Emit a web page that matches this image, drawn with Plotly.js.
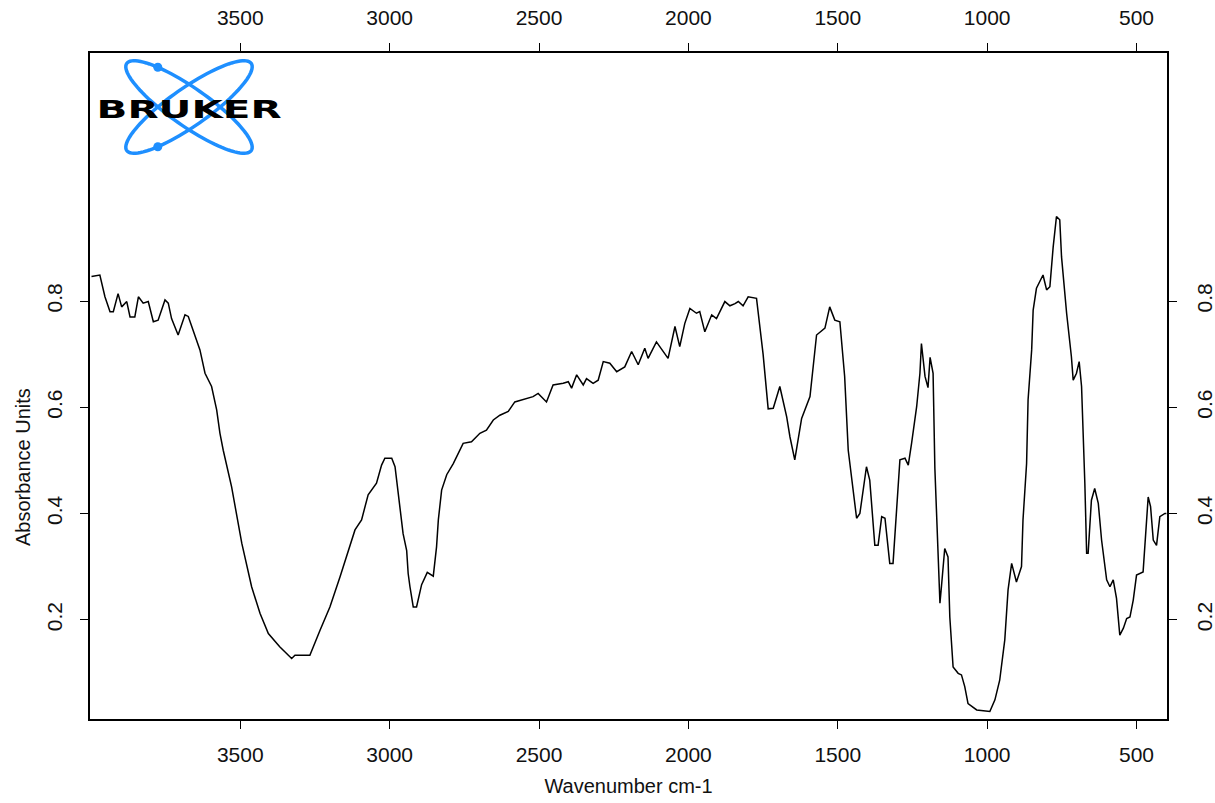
<!DOCTYPE html>
<html><head><meta charset="utf-8">
<script src="https://cdn.plot.ly/plotly-3.0.1.min.js"></script>
<style>
html,body{margin:0;padding:0;background:#fff;}
#chart{width:1215px;height:803px;}
.annotation[data-index="1"] text{transform:scaleX(1.62);transform-box:fill-box;transform-origin:center;}
</style></head><body><div id="chart"></div>
<script>
// ---- data ----
const wavenumbers = [3998,3970,3953,3936,3925,3909,3897,3880,3869,3853,3841,3825,3808,3791,3775,3752,3741,3730,3708,3685,3674,3657,3635,3618,3596,3579,3568,3557,3529,3495,3462,3434,3406,3368,3328,3317,3267,3233,3200,3166,3139,3116,3094,3072,3044,3027,3016,2993,2982,2966,2955,2943,2938,2932,2921,2910,2893,2874,2854,2843,2837,2826,2809,2787,2776,2759,2754,2726,2698,2676,2653,2631,2603,2581,2553,2520,2503,2475,2453,2419,2402,2391,2374,2352,2341,2319,2302,2285,2263,2240,2213,2190,2168,2146,2135,2107,2068,2045,2029,2012,1995,1973,1962,1945,1922,1906,1878,1861,1844,1833,1817,1800,1772,1750,1733,1716,1694,1671,1660,1644,1621,1593,1571,1543,1527,1510,1493,1477,1465,1437,1426,1404,1393,1376,1365,1353,1342,1326,1315,1303,1292,1275,1264,1253,1236,1225,1220,1208,1198,1191,1181,1175,1169,1158,1153,1142,1131,1125,1114,1097,1086,1075,1064,1035,991,974,958,941,930,918,902,885,880,868,863,851,846,835,813,801,790,779,768,757,751,734,718,712,701,692,684,679,673,667,662,651,640,628,617,600,589,578,567,556,544,533,522,511,500,478,470,461,453,444,433,422,405,400];
const absorbance = [0.846,0.849,0.808,0.780,0.780,0.814,0.789,0.799,0.770,0.770,0.808,0.796,0.799,0.761,0.764,0.802,0.796,0.767,0.736,0.774,0.771,0.742,0.708,0.664,0.639,0.595,0.551,0.519,0.450,0.344,0.262,0.212,0.174,0.149,0.127,0.133,0.133,0.180,0.224,0.281,0.331,0.369,0.388,0.435,0.457,0.491,0.504,0.504,0.488,0.413,0.362,0.330,0.287,0.262,0.224,0.224,0.266,0.289,0.282,0.337,0.388,0.444,0.473,0.494,0.507,0.526,0.532,0.535,0.551,0.557,0.576,0.585,0.592,0.610,0.614,0.620,0.626,0.610,0.642,0.645,0.648,0.636,0.661,0.642,0.654,0.645,0.651,0.686,0.683,0.667,0.676,0.705,0.680,0.711,0.692,0.723,0.692,0.752,0.714,0.758,0.786,0.777,0.780,0.742,0.774,0.767,0.799,0.791,0.795,0.799,0.791,0.808,0.805,0.700,0.597,0.598,0.639,0.582,0.544,0.501,0.579,0.620,0.736,0.749,0.789,0.764,0.761,0.658,0.519,0.391,0.400,0.488,0.463,0.340,0.340,0.394,0.391,0.306,0.306,0.400,0.501,0.504,0.491,0.532,0.601,0.664,0.720,0.658,0.637,0.694,0.664,0.485,0.381,0.231,0.262,0.334,0.318,0.205,0.111,0.099,0.096,0.074,0.042,0.030,0.027,0.049,0.086,0.162,0.256,0.306,0.271,0.300,0.388,0.494,0.614,0.708,0.783,0.824,0.849,0.821,0.827,0.902,0.959,0.953,0.883,0.777,0.695,0.651,0.664,0.686,0.639,0.563,0.457,0.325,0.325,0.425,0.447,0.419,0.350,0.275,0.262,0.275,0.240,0.171,0.184,0.202,0.205,0.237,0.284,0.290,0.363,0.431,0.413,0.350,0.340,0.394,0.400,0.400];
const xTickVals = [3500, 3000, 2500, 2000, 1500, 1000, 500];
const xTickText = ['3500', '3000', '2500', '2000', '1500', '1000', '500'];
const yTickVals = [0.2, 0.4, 0.6, 0.8];
const yTickText = ['0.2', '0.4', '0.6', '0.8'];
const xTitle = 'Wavenumber cm-1';
const yTitle = 'Absorbance Units';
const logoText = 'BRUKER';

// ---- layout geometry ----
const W = 1215, H = 803;
const M = {l: 90, r: 48, t: 53, b: 84};
const PW = W - M.l - M.r, PH = H - M.t - M.b;
const px2x = px => (px - M.l) / PW;
const py2y = py => 1 - (py - M.t) / PH;

const tickFont = {family: 'Liberation Sans, Arial, sans-serif', size: 21, color: '#111'};
const titleFont = {family: 'Liberation Sans, Arial, sans-serif', size: 20, color: '#111'};

const xBase = {
  range: [4003, 398], tickvals: xTickVals, ticktext: xTickText,
  ticks: 'outside', ticklen: 8, tickwidth: 1, tickcolor: '#000',
  showline: true, linecolor: '#000', linewidth: 2,
  showgrid: false, zeroline: false, tickfont: tickFont, fixedrange: true
};
const yBase = {
  range: [0.013, 1.267], tickvals: yTickVals, ticktext: yTickText, tickangle: -90,
  ticks: 'outside', ticklen: 8, tickwidth: 1, tickcolor: '#000',
  showline: true, linecolor: '#000', linewidth: 2,
  showgrid: false, zeroline: false, tickfont: tickFont, fixedrange: true
};

// ---- logo (decoration): two tilted orbits + dots ----
const logoC = {x: 189, y: 107}, la = 76, lb = 19, ang = 35 * Math.PI / 180;
function orbitPath(sign) {
  const c = Math.cos(ang), s = Math.sin(ang) * sign;
  let d = '';
  for (let i = 0; i <= 96; i++) {
    const t = i / 96 * 2 * Math.PI;
    const ex = la * Math.cos(t), ey = lb * Math.sin(t);
    const X = logoC.x + ex * c - ey * s, Y = logoC.y + ex * s + ey * c;
    d += (i === 0 ? 'M' : 'L') + px2x(X).toFixed(5) + ',' + py2y(Y).toFixed(5);
  }
  return d + 'Z';
}
function orbitPoint(sign, targetDx, upper) {
  const c = Math.cos(ang), s = Math.sin(ang) * sign;
  let best = null;
  for (let i = 0; i < 720; i++) {
    const t = i / 720 * 2 * Math.PI;
    const ex = la * Math.cos(t), ey = lb * Math.sin(t);
    const dx = ex * c - ey * s, dy = ex * s + ey * c;
    if (Math.abs(dx - targetDx) < 1.5) {
      if (!best || (upper ? dy < best.dy : dy > best.dy)) best = {dx, dy};
    }
  }
  return {x: logoC.x + best.dx, y: logoC.y + best.dy};
}
const blue = '#1e8fff';
const shapes = [
  {type: 'path', xref: 'paper', yref: 'paper', path: orbitPath(1), line: {color: blue, width: 3.5}},
  {type: 'path', xref: 'paper', yref: 'paper', path: orbitPath(-1), line: {color: blue, width: 3.5}}
];
[orbitPoint(1, -30, true), orbitPoint(-1, -30, false)].forEach(p => {
  const r = 4.5;
  shapes.push({type: 'circle', xref: 'paper', yref: 'paper',
    x0: px2x(p.x - r), x1: px2x(p.x + r), y0: py2y(p.y + r), y1: py2y(p.y - r),
    fillcolor: blue, line: {color: blue, width: 0}});
});

const traces = [
  {x: wavenumbers, y: absorbance, type: 'scatter', mode: 'lines',
   line: {color: '#000', width: 1.5}, hoverinfo: 'skip', showlegend: false},
  {x: [], y: [], xaxis: 'x2', yaxis: 'y2', type: 'scatter', mode: 'lines', showlegend: false, hoverinfo: 'skip'}
];

const layout = {
  width: W, height: H, margin: M,
  paper_bgcolor: '#fff', plot_bgcolor: '#fff', showlegend: false,
  xaxis: Object.assign({}, xBase, {side: 'bottom', anchor: 'y', ticklabelstandoff: 8,
    title: {text: xTitle, font: titleFont, standoff: 14}}),
  xaxis2: Object.assign({}, xBase, {side: 'top', overlaying: 'x', anchor: 'y', ticklabelstandoff: 10}),
  yaxis: Object.assign({}, yBase, {side: 'left', anchor: 'x', ticklabelstandoff: 10}),
  yaxis2: Object.assign({}, yBase, {side: 'right', overlaying: 'y', anchor: 'x', ticklabelstandoff: 10}),
  shapes: shapes,
  annotations: [
    {text: yTitle, xref: 'paper', yref: 'paper', x: px2x(23), y: py2y(467), textangle: -90,
     showarrow: false, xanchor: 'center', yanchor: 'middle', font: titleFont},
    {text: '<b>' + logoText + '</b>', xref: 'paper', yref: 'paper', x: px2x(188.5), y: py2y(109),
     showarrow: false, xanchor: 'center', yanchor: 'middle',
     font: {family: 'DejaVu Sans, Liberation Sans, sans-serif', size: 25, color: '#000'}}
  ]
};

Plotly.newPlot('chart', traces, layout, {displayModeBar: false, staticPlot: true});
</script></body></html>
